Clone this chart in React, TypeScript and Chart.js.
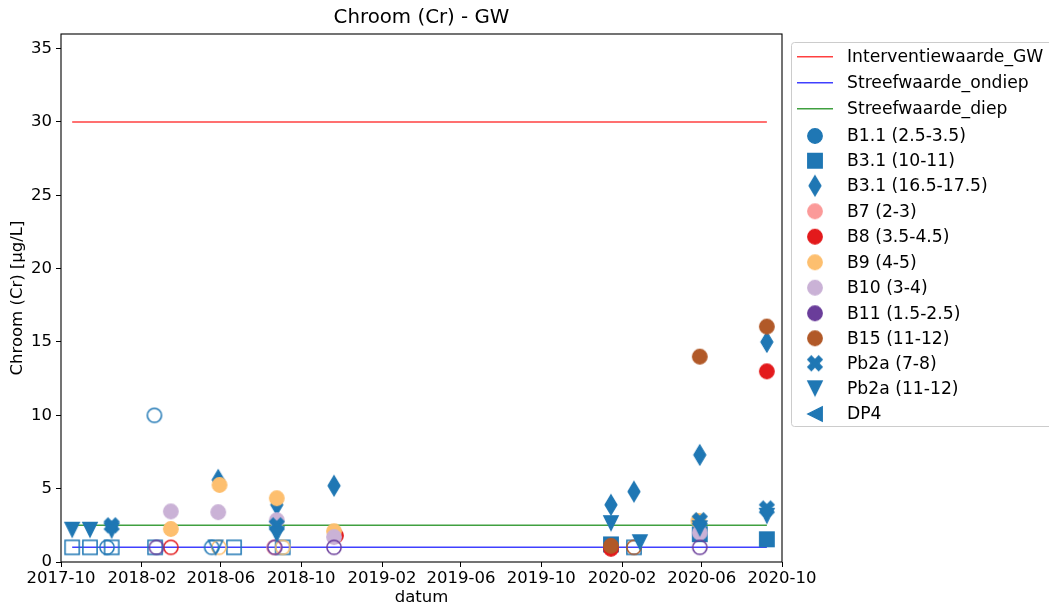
import React, { useEffect, useRef } from "react";
import { Chart, registerables } from "chart.js";

Chart.register(...registerables);

type Pt = [string, number];

// ---------- axes ----------
const titleText = "Chroom (Cr) - GW";
const xAxisTitle = "datum";
const yAxisTitle = "Chroom (Cr) [µg/L]";
const xTickLabels = ["2017-10", "2018-02", "2018-06", "2018-10", "2019-02", "2019-06", "2019-10", "2020-02", "2020-06", "2020-10"];
const yTickValues = [0, 5, 10, 15, 20, 25, 30, 35];
const xRange = ["2017-10-01", "2020-10-01"];
const yRange = [0, 36];

// ---------- reference lines ----------
const lineDates = ["2017-10-18", "2020-09-08"];
const interventiewaardeGW = 30;
const streefwaardeOndiep = 1;
const streefwaardeDiep = 2.5;

// ---------- measurements (filled = measured, open = below limit) ----------
const b1_1Filled: Pt[] = [];
const b1_1Open: Pt[] = [["2017-12-10", 1.0], ["2018-02-20", 10.0], ["2018-05-18", 1.0]];
const b3_1ShallowFilled: Pt[] = [["2020-01-15", 1.2], ["2020-05-29", 1.9], ["2020-09-08", 1.55]];
const b3_1ShallowOpen: Pt[] = [["2017-10-18", 1], ["2017-11-14", 1], ["2017-12-17", 1], ["2018-02-21", 1], ["2018-06-21", 1], ["2018-09-03", 1], ["2020-02-19", 1]];
const b3_1DeepFilled: Pt[] = [["2018-05-28", 5.6], ["2018-08-25", 3.9], ["2018-11-20", 5.2], ["2020-01-15", 3.9], ["2020-02-19", 4.8], ["2020-05-29", 7.3], ["2020-09-08", 15.0]];
const b3_1DeepOpen: Pt[] = [];
const b7Filled: Pt[] = [];
const b7Open: Pt[] = [["2018-08-21", 1]];
const b8Filled: Pt[] = [["2018-11-23", 1.8], ["2020-01-15", 0.9], ["2020-09-08", 13.0]];
const b8Open: Pt[] = [["2018-03-17", 1]];
const b9Filled: Pt[] = [["2018-03-17", 2.25], ["2018-05-30", 5.25], ["2018-08-25", 4.35], ["2018-11-20", 2.1], ["2020-05-27", 2.8]];
const b9Open: Pt[] = [["2018-05-29", 1], ["2018-09-03", 1]];
const b10Filled: Pt[] = [["2018-03-17", 3.45], ["2018-05-28", 3.4], ["2018-08-25", 2.85], ["2018-11-20", 1.7], ["2020-05-29", 2.0]];
const b10Open: Pt[] = [];
const b11Filled: Pt[] = [];
const b11Open: Pt[] = [["2018-02-23", 1], ["2018-08-22", 1], ["2018-11-20", 1], ["2020-05-29", 1]];
const b15Filled: Pt[] = [["2020-01-15", 1.1], ["2020-05-29", 14.0], ["2020-09-08", 16.05]];
const b15Open: Pt[] = [["2020-02-19", 1]];
const pb2aShallowFilled: Pt[] = [["2017-12-17", 2.5], ["2018-08-25", 2.5], ["2020-05-29", 2.85], ["2020-09-08", 3.65]];
const pb2aShallowOpen: Pt[] = [];
const pb2aDeepFilled: Pt[] = [["2017-10-18", 2.2], ["2017-11-14", 2.2], ["2017-12-17", 2.15], ["2018-08-25", 1.9], ["2020-01-15", 2.65], ["2020-02-28", 1.35], ["2020-05-29", 2.3], ["2020-09-08", 3.15]];
const pb2aDeepOpen: Pt[] = [["2018-05-24", 1]];
const dp4Filled: Pt[] = [];
const dp4Open: Pt[] = [];

const FONT = '"DejaVu Sans", "Liberation Sans", sans-serif';
const toMs = (d: string) => Date.parse(d + "T00:00:00Z");

type Shape = "circle" | "square" | "thin_diamond" | "x" | "tri_down" | "tri_left";

const refLines = [
  { label: "Interventiewaarde_GW", value: interventiewaardeGW, color: "rgba(255,0,0,0.75)" },
  { label: "Streefwaarde_ondiep", value: streefwaardeOndiep, color: "rgba(0,0,255,0.75)" },
  { label: "Streefwaarde_diep", value: streefwaardeDiep, color: "rgba(0,128,0,0.75)" },
];

const series: { label: string; color: string; shape: Shape; filled: Pt[]; open: Pt[] }[] = [
  { label: "B1.1 (2.5-3.5)", color: "#1f77b4", shape: "circle", filled: b1_1Filled, open: b1_1Open },
  { label: "B3.1 (10-11)", color: "#1f77b4", shape: "square", filled: b3_1ShallowFilled, open: b3_1ShallowOpen },
  { label: "B3.1 (16.5-17.5)", color: "#1f77b4", shape: "thin_diamond", filled: b3_1DeepFilled, open: b3_1DeepOpen },
  { label: "B7 (2-3)", color: "#fb9a99", shape: "circle", filled: b7Filled, open: b7Open },
  { label: "B8 (3.5-4.5)", color: "#e31a1c", shape: "circle", filled: b8Filled, open: b8Open },
  { label: "B9 (4-5)", color: "#fdbf6f", shape: "circle", filled: b9Filled, open: b9Open },
  { label: "B10 (3-4)", color: "#cab2d6", shape: "circle", filled: b10Filled, open: b10Open },
  { label: "B11 (1.5-2.5)", color: "#6a3d9a", shape: "circle", filled: b11Filled, open: b11Open },
  { label: "B15 (11-12)", color: "#b15928", shape: "circle", filled: b15Filled, open: b15Open },
  { label: "Pb2a (7-8)", color: "#1f77b4", shape: "x", filled: pb2aShallowFilled, open: pb2aShallowOpen },
  { label: "Pb2a (11-12)", color: "#1f77b4", shape: "tri_down", filled: pb2aDeepFilled, open: pb2aDeepOpen },
  { label: "DP4", color: "#1f77b4", shape: "tri_left", filled: dp4Filled, open: dp4Open },
];

function makeMarker(shape: Shape, color: string, filled: boolean): HTMLCanvasElement {
  const c = document.createElement("canvas");
  const W = shape === "thin_diamond" ? 16 : 20;
  const H = shape === "thin_diamond" ? 24 : 20;
  c.width = W;
  c.height = H;
  const g = c.getContext("2d")!;
  g.translate(W / 2, H / 2);
  g.beginPath();
  const r = filled ? 7.3 : 7.1;
  if (shape === "circle") {
    g.arc(0, 0, r, 0, Math.PI * 2);
  } else if (shape === "square") {
    g.rect(-r, -r, 2 * r, 2 * r);
  } else if (shape === "thin_diamond") {
    g.moveTo(0, -10);
    g.lineTo(6, 0);
    g.lineTo(0, 10);
    g.lineTo(-6, 0);
  } else if (shape === "x") {
    const u = r / 2;
    const pts = [[-1, -2], [0, -1], [1, -2], [2, -1], [1, 0], [2, 1], [1, 2], [0, 1], [-1, 2], [-2, 1], [-1, 0], [-2, -1]];
    pts.forEach(([px, py], i) => (i === 0 ? g.moveTo(px * u, py * u) : g.lineTo(px * u, py * u)));
  } else if (shape === "tri_down") {
    g.moveTo(0, r);
    g.lineTo(-r, -r);
    g.lineTo(r, -r);
  } else if (shape === "tri_left") {
    g.moveTo(-r, 0);
    g.lineTo(r, -r);
    g.lineTo(r, r);
  }
  g.closePath();
  g.strokeStyle = color;
  if (filled) {
    g.fillStyle = color;
    g.fill();
    g.lineWidth = 1.2;
    g.stroke();
  } else {
    g.lineWidth = 1.5;
    g.stroke();
  }
  return c;
}

export default function App() {
  const canvasRef = useRef<HTMLCanvasElement | null>(null);

  useEffect(() => {
    document.body.style.margin = "0";
    document.body.style.overflow = "hidden";
    const canvas = canvasRef.current!;
    const markerCache: Record<string, HTMLCanvasElement> = {};
    const marker = (s: Shape, c: string, f: boolean) => {
      const k = s + c + f;
      if (!markerCache[k]) markerCache[k] = makeMarker(s, c, f);
      return markerCache[k];
    };

    const drawList: any[] = [];
    refLines.forEach((l) => {
      drawList.push({
        label: l.label,
        data: lineDates.map((d) => ({ x: toMs(d), y: l.value })),
        showLine: true,
        borderColor: l.color,
        backgroundColor: l.color,
        borderWidth: 1.5,
        pointRadius: 0,
      });
    });
    series.forEach((s) => {
      if (s.filled.length)
        drawList.push({
          label: s.label,
          data: s.filled.map(([d, v]) => ({ x: toMs(d), y: v })),
          pointStyle: marker(s.shape, s.color, true),
          pointRadius: 7,
          borderColor: s.color,
          backgroundColor: s.color,
        });
      if (s.open.length)
        drawList.push({
          label: s.label + " (open)",
          data: s.open.map(([d, v]) => ({ x: toMs(d), y: v })),
          pointStyle: marker(s.shape, s.color, false),
          pointRadius: 7,
          borderColor: s.color,
          backgroundColor: "transparent",
        });
    });
    const n = drawList.length;
    drawList.forEach((d, i) => (d.order = n - i));

    const framePlugin = {
      id: "frame",
      afterDatasetsDraw(chart: any) {
        const { ctx, chartArea: a } = chart;
        ctx.save();
        ctx.strokeStyle = "#000";
        ctx.lineWidth = 1.1;
        ctx.strokeRect(a.left, a.top, a.right - a.left, a.bottom - a.top);
        ctx.restore();
      },
    };

    const legendPlugin = {
      id: "mplLegend",
      afterDraw(chart: any) {
        const ctx: CanvasRenderingContext2D = chart.ctx;
        ctx.save();
        const bx = 791.5, by = 42.5, bw = 320, bh = 384, rr = 3;
        ctx.beginPath();
        ctx.moveTo(bx + rr, by);
        ctx.lineTo(bx + bw - rr, by);
        ctx.quadraticCurveTo(bx + bw, by, bx + bw, by + rr);
        ctx.lineTo(bx + bw, by + bh - rr);
        ctx.quadraticCurveTo(bx + bw, by + bh, bx + bw - rr, by + bh);
        ctx.lineTo(bx + rr, by + bh);
        ctx.quadraticCurveTo(bx, by + bh, bx, by + bh - rr);
        ctx.lineTo(bx, by + rr);
        ctx.quadraticCurveTo(bx, by, bx + rr, by);
        ctx.closePath();
        ctx.fillStyle = "rgba(255,255,255,0.85)";
        ctx.fill();
        ctx.strokeStyle = "#cccccc";
        ctx.lineWidth = 1;
        ctx.stroke();

        const rowY = [56.7, 82.7, 108.7, 136, 160.7, 185.7, 211.3, 236.7, 262.3, 287.7, 313.3, 338.3, 363.3, 388.3, 414];
        ctx.font = "17.2px " + FONT;
        ctx.textBaseline = "middle";
        ctx.textAlign = "left";
        let row = 0;
        refLines.forEach((l) => {
          const y = rowY[row++];
          ctx.strokeStyle = l.color;
          ctx.lineWidth = 1.5;
          ctx.beginPath();
          ctx.moveTo(797, y);
          ctx.lineTo(833, y);
          ctx.stroke();
          ctx.fillStyle = "#000";
          ctx.fillText(l.label, 847, y + 1);
        });
        series.forEach((s) => {
          const y = rowY[row++];
          const m = marker(s.shape, s.color, true);
          ctx.drawImage(m, 815 - m.width / 2, y - m.height / 2);
          ctx.fillStyle = "#000";
          ctx.fillText(s.label, 847, y + 1);
        });
        ctx.restore();
      },
    };

    const xTickValues = xTickLabels.map((l) => toMs(l + "-01"));

    const chart = new Chart(canvas, {
      type: "scatter",
      data: { datasets: drawList },
      options: {
        animation: false,
        responsive: false,
        events: [],
        layout: { padding: { left: 0, right: 267, top: 0, bottom: 0 } },
        plugins: {
          legend: { display: false },
          tooltip: { enabled: false },
          title: {
            display: true,
            text: titleText,
            color: "#000",
            font: { family: FONT, size: 19.8, weight: "normal" },
            padding: { top: 6, bottom: 4.24 },
            fullSize: false,
          },
        },
        scales: {
          x: {
            type: "linear",
            min: toMs(xRange[0]),
            max: toMs(xRange[1]),
            afterFit: (s: any) => {
              s.height = 45;
            },
            afterBuildTicks: (s: any) => {
              s.ticks = xTickValues.map((v) => ({ value: v }));
            },
            border: { display: false },
            grid: { drawOnChartArea: false, drawTicks: true, tickLength: 5, color: "#000", lineWidth: 1 },
            ticks: {
              color: "#000",
              font: { family: FONT, size: 16.5 },
              padding: 2,
              maxRotation: 0,
              autoSkip: false,
              callback: (v: any) => {
                const i = xTickValues.indexOf(Number(v));
                return i >= 0 ? xTickLabels[i] : "";
              },
            },
            title: {
              display: true,
              text: xAxisTitle,
              color: "#000",
              font: { family: FONT, size: 16.5 },
              padding: { top: 0, bottom: -1 },
            },
          },
          y: {
            type: "linear",
            min: yRange[0],
            max: yRange[1],
            afterFit: (s: any) => {
              s.width = 61;
            },
            afterBuildTicks: (s: any) => {
              s.ticks = yTickValues.map((v) => ({ value: v }));
            },
            border: { display: false },
            grid: { drawOnChartArea: false, drawTicks: true, tickLength: 5, color: "#000", lineWidth: 1 },
            ticks: {
              color: "#000",
              font: { family: FONT, size: 16.5 },
              padding: 4,
            },
            title: {
              display: true,
              text: yAxisTitle,
              color: "#000",
              font: { family: FONT, size: 16.5 },
              padding: { top: 8, bottom: 0 },
            },
          },
        },
      },
      plugins: [framePlugin, legendPlugin],
    } as any);

    return () => chart.destroy();
  }, []);

  return (
    <div style={{ width: 1049, height: 607, background: "#fff" }}>
      <canvas ref={canvasRef} width={1049} height={607} style={{ display: "block" }} />
    </div>
  );
}
